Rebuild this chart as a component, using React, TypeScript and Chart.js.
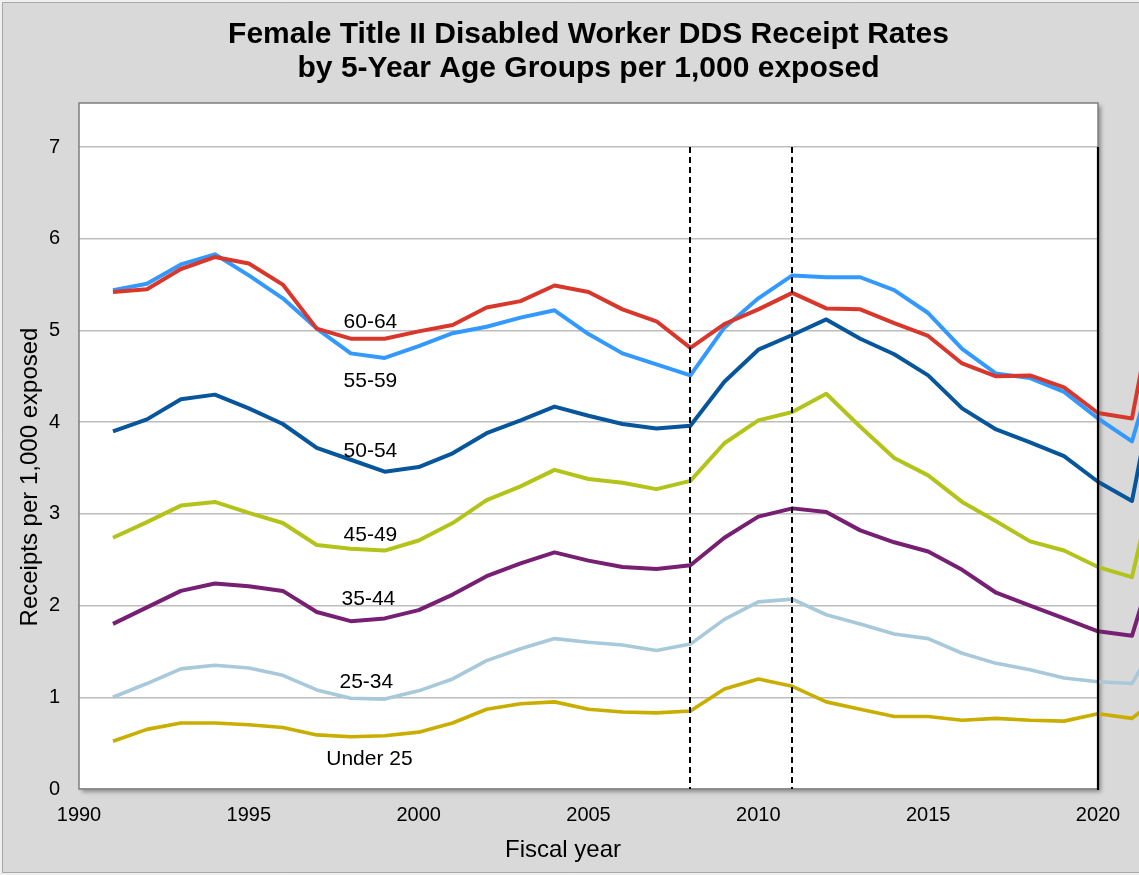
import { useEffect, useRef } from "react";
import { Chart, registerables } from "chart.js";

Chart.register(...registerables);

const years = [
  1991, 1992, 1993, 1994, 1995, 1996, 1997, 1998, 1999, 2000, 2001, 2002, 2003, 2004, 2005, 2006,
  2007, 2008, 2009, 2010, 2011, 2012, 2013, 2014, 2015, 2016, 2017, 2018, 2019, 2020, 2021, 2022,
];

const age60to64 = [
  5.42, 5.45, 5.67, 5.8, 5.73, 5.5, 5.02, 4.91, 4.91, 4.99, 5.06, 5.25, 5.32, 5.49, 5.42, 5.23,
  5.1, 4.81, 5.07, 5.23, 5.41, 5.24, 5.23, 5.08, 4.94, 4.64, 4.5, 4.51, 4.38, 4.1, 4.04, 5.98,
];
const age55to59 = [
  5.44, 5.51, 5.72, 5.83, 5.6, 5.35, 5.02, 4.75, 4.7, 4.83, 4.97, 5.04, 5.14, 5.22, 4.96, 4.75,
  4.63, 4.51, 5.03, 5.35, 5.6, 5.58, 5.58, 5.44, 5.19, 4.8, 4.53, 4.48, 4.33, 4.04, 3.79, 5.05,
];
const age50to54 = [
  3.9, 4.03, 4.25, 4.3, 4.15, 3.98, 3.72, 3.59, 3.46, 3.51, 3.66, 3.88, 4.02, 4.17, 4.07, 3.98,
  3.93, 3.96, 4.44, 4.79, 4.95, 5.12, 4.91, 4.74, 4.51, 4.15, 3.92, 3.78, 3.63, 3.35, 3.14, 5.04,
];
const age45to49 = [
  2.74, 2.91, 3.09, 3.13, 3.01, 2.9, 2.66, 2.62, 2.6, 2.71, 2.9, 3.15, 3.3, 3.48, 3.38, 3.34,
  3.27, 3.36, 3.77, 4.02, 4.11, 4.31, 3.95, 3.61, 3.42, 3.13, 2.92, 2.7, 2.6, 2.42, 2.31, 3.9,
];
const age35to44 = [
  1.8, 1.98, 2.16, 2.24, 2.21, 2.16, 1.93, 1.83, 1.86, 1.95, 2.12, 2.32, 2.46, 2.58, 2.49, 2.42,
  2.4, 2.44, 2.74, 2.97, 3.06, 3.02, 2.82, 2.69, 2.59, 2.39, 2.14, 2.0, 1.86, 1.72, 1.67, 2.88,
];
const age25to34 = [
  1.0, 1.15, 1.31, 1.35, 1.32, 1.24, 1.08, 0.99, 0.98, 1.07, 1.2, 1.4, 1.53, 1.64, 1.6, 1.57,
  1.51, 1.58, 1.85, 2.04, 2.07, 1.9, 1.8, 1.69, 1.64, 1.48, 1.37, 1.3, 1.21, 1.17, 1.15, 1.78,
];
const under25 = [
  0.52, 0.65, 0.72, 0.72, 0.7, 0.67, 0.59, 0.57, 0.58, 0.62, 0.72, 0.87, 0.93, 0.95, 0.87, 0.84,
  0.83, 0.85, 1.09, 1.2, 1.12, 0.95, 0.87, 0.79, 0.79, 0.75, 0.77, 0.75, 0.74, 0.82, 0.77, 1.06,
];

const seriesNames = ["60-64", "55-59", "50-54", "45-49", "35-44", "25-34", "Under 25"];

// annotation anchors in data units (year, rate)
const labelYears = [1998.58, 1998.58, 1998.58, 1998.58, 1998.52, 1998.46, 1998.55];
const labelRates = [5.09, 4.45, 3.68, 2.77, 2.07, 1.16, 0.33];

const dashedYears = [2008, 2011];
const plotEndYear = 2020;
const plotStartYear = 1990;
const topGridValue = 7;

const titleLines = [
  "Female Title II Disabled Worker DDS Receipt Rates",
  "by 5-Year Age Groups per 1,000 exposed",
];
const xAxisTitle = "Fiscal year";
const yAxisTitle = "Receipts per 1,000 exposed";

const FONT = "'Liberation Sans', Arial, Helvetica, sans-serif";

export default function App() {
  const ref = useRef<HTMLCanvasElement | null>(null);

  useEffect(() => {
    const canvas = ref.current;
    if (!canvas) return;

    const seriesData = [age60to64, age55to59, age50to54, age45to49, age35to44, age25to34, under25];
    const colors = ["#d8372c", "#3399ff", "#07569c", "#b3c31a", "#761f73", "#a7c9da", "#c9ae00"];
    const widths = [4, 4, 4, 4, 4, 3.6, 3.6];

    const decor = {
      id: "decor",
      beforeDraw(chart: any) {
        const { ctx, width, height, chartArea } = chart;
        ctx.save();
        ctx.fillStyle = "#efefef";
        ctx.fillRect(0, 0, width, height);
        ctx.fillStyle = "#d9d9d9";
        ctx.fillRect(2, 2, width - 2, height - 4);
        ctx.strokeStyle = "#a8a8a8";
        ctx.lineWidth = 1;
        ctx.beginPath();
        ctx.moveTo(width, 2.5);
        ctx.lineTo(2.5, 2.5);
        ctx.lineTo(2.5, height - 2.5);
        ctx.lineTo(width, height - 2.5);
        ctx.stroke();
        // plot area with drop shadow
        ctx.shadowColor = "rgba(0,0,0,0.35)";
        ctx.shadowBlur = 4;
        ctx.shadowOffsetX = 3;
        ctx.shadowOffsetY = 3;
        ctx.fillStyle = "#ffffff";
        ctx.fillRect(chartArea.left, chartArea.top, chartArea.right - chartArea.left, chartArea.bottom - chartArea.top);
        ctx.restore();
      },
      beforeDatasetsDraw(chart: any) {
        const { ctx, chartArea } = chart;
        ctx.save();
        ctx.strokeStyle = "#7f7f7f";
        ctx.lineWidth = 1.5;
        ctx.strokeRect(chartArea.left, chartArea.top, chartArea.right - chartArea.left, chartArea.bottom - chartArea.top);
        ctx.restore();
      },
      afterDatasetsDraw(chart: any) {
        const { ctx, scales } = chart;
        const xs = scales.x;
        const ys = scales.y;
        const y0 = ys.getPixelForValue(0);
        const y7 = ys.getPixelForValue(topGridValue);
        ctx.save();
        ctx.strokeStyle = "#000000";
        ctx.lineWidth = 2;
        ctx.setLineDash([6, 4]);
        dashedYears.forEach((yr) => {
          const px = Math.round(xs.getPixelForValue(yr));
          ctx.beginPath();
          ctx.moveTo(px, y7);
          ctx.lineTo(px, y0);
          ctx.stroke();
        });
        ctx.setLineDash([]);
        ctx.lineWidth = 2.2;
        const pe = xs.getPixelForValue(plotEndYear);
        ctx.beginPath();
        ctx.moveTo(pe, y7);
        ctx.lineTo(pe, y0 + 1);
        ctx.stroke();

        // series labels
        ctx.fillStyle = "#000000";
        ctx.font = `21px ${FONT}`;
        ctx.textAlign = "center";
        ctx.textBaseline = "middle";
        seriesNames.forEach((name, i) => {
          ctx.fillText(name, xs.getPixelForValue(labelYears[i]), ys.getPixelForValue(labelRates[i]));
        });

        // axis titles
        ctx.font = `24px ${FONT}`;
        ctx.textBaseline = "alphabetic";
        ctx.fillText(xAxisTitle, xs.getPixelForValue(plotStartYear) + 484, chart.height - 18);
        ctx.translate(37, ys.getPixelForValue(0) - 312);
        ctx.rotate(-Math.PI / 2);
        ctx.fillText(yAxisTitle, 0, 0);
        ctx.restore();
      },
    };

    const chart = new Chart(canvas, {
      type: "line",
      data: {
        datasets: seriesNames.map((name, i) => ({
          label: name,
          data: years.map((yr, j) => ({ x: yr, y: seriesData[i][j] })),
          borderColor: colors[i],
          backgroundColor: colors[i],
          borderWidth: widths[i],
          pointRadius: 0,
          pointHoverRadius: 0,
          tension: 0,
          fill: false,
          clip: false as any,
          borderJoinStyle: "round" as const,
        })),
      },
      options: {
        animation: false,
        responsive: false,
        devicePixelRatio: 1,
        events: [],
        layout: { padding: { top: 18, right: 41, left: 0, bottom: 0 } },
        plugins: {
          legend: { display: false },
          tooltip: { enabled: false },
          title: {
            display: true,
            fullSize: false,
            text: titleLines,
            color: "#000000",
            font: { family: FONT, size: 30, weight: "bold", lineHeight: 34 / 30 },
            padding: { top: 0, bottom: 17 },
          },
        },
        scales: {
          x: {
            type: "linear",
            afterDataLimits: (s: any) => {
              s.min = plotStartYear;
              s.max = plotEndYear;
            },
            afterFit: (s: any) => {
              s.height = 86;
            },
            grid: { display: false, drawTicks: false },
            border: { display: false },
            ticks: {
              stepSize: 5,
              color: "#000000",
              font: { family: FONT, size: 20 },
              padding: 14,
              maxRotation: 0,
              autoSkip: false,
              callback: (v: any) => String(v),
            },
          },
          y: {
            min: 0,
            max: 7.48,
            bounds: "data",
            afterFit: (s: any) => {
              s.width = 79;
            },
            grid: { color: "#bdbdbd", lineWidth: 1.4, drawTicks: false },
            border: { display: false },
            ticks: {
              stepSize: 1,
              includeBounds: false,
              color: "#000000",
              font: { family: FONT, size: 20 },
              padding: 19,
              callback: (v: any) => String(v),
            },
          },
        },
      },
      plugins: [decor],
    } as any);

    return () => chart.destroy();
  }, []);

  return (
    <div style={{ position: "absolute", left: 0, top: 0, width: 1139, height: 875 }}>
      <canvas ref={ref} width={1139} height={875} style={{ display: "block", width: 1139, height: 875 }} />
    </div>
  );
}
